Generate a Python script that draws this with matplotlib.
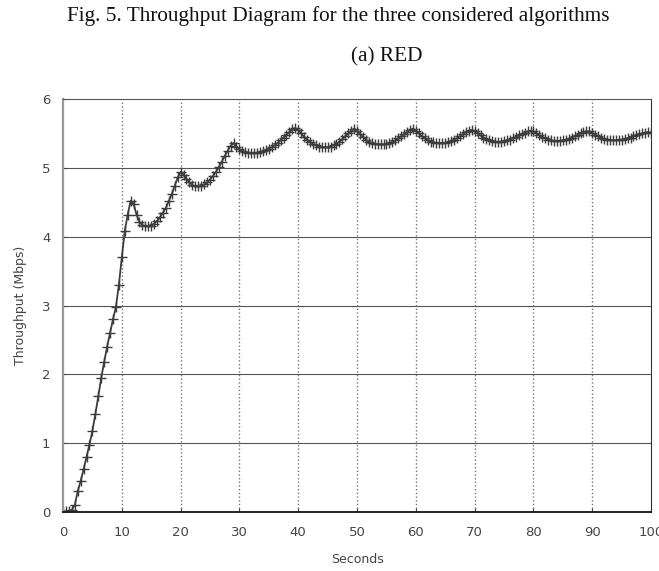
import numpy as np
import matplotlib
matplotlib.use('Agg')
import matplotlib.pyplot as plt

# RED throughput trace, sampled every 0.5 s
seconds = np.arange(0, 100.5, 0.5)
throughput = [
    0.00, 0.01, 0.02, 0.03, 0.10, 0.30, 0.45, 0.62, 0.80, 0.98,   # 0 - 4.5
    1.18, 1.42, 1.68, 1.95, 2.18, 2.40, 2.60, 2.80, 2.98, 3.30,   # 5 - 9.5
    3.70, 4.08, 4.32, 4.52, 4.48, 4.32, 4.22, 4.17, 4.15, 4.15,   # 10 - 14.5
    4.16, 4.19, 4.23, 4.28, 4.35, 4.42, 4.52, 4.62, 4.74, 4.86,   # 15 - 19.5
    4.94, 4.90, 4.84, 4.79, 4.75, 4.73, 4.73, 4.74, 4.76, 4.79,   # 20 - 24.5
    4.83, 4.88, 4.94, 5.01, 5.09, 5.17, 5.25, 5.32, 5.36, 5.31,   # 25 - 29.5
    5.27, 5.25, 5.23, 5.22, 5.22, 5.22, 5.22, 5.23, 5.24, 5.26,   # 30 - 34.5
    5.28, 5.30, 5.33, 5.36, 5.40, 5.44, 5.48, 5.52, 5.56, 5.58,   # 35 - 39.5
    5.55, 5.50, 5.45, 5.41, 5.38, 5.35, 5.33, 5.31, 5.30, 5.30,   # 40 - 44.5
    5.30, 5.31, 5.33, 5.35, 5.38, 5.42, 5.46, 5.50, 5.54, 5.57,   # 45 - 49.5
    5.54, 5.49, 5.45, 5.41, 5.38, 5.36, 5.35, 5.34, 5.34, 5.34,   # 50 - 54.5
    5.35, 5.36, 5.38, 5.40, 5.43, 5.46, 5.49, 5.52, 5.55, 5.57,   # 55 - 59.5
    5.54, 5.50, 5.46, 5.43, 5.40, 5.38, 5.37, 5.36, 5.36, 5.36,   # 60 - 64.5
    5.36, 5.37, 5.39, 5.41, 5.43, 5.46, 5.49, 5.52, 5.54, 5.55,   # 65 - 69.5
    5.53, 5.50, 5.47, 5.44, 5.42, 5.40, 5.39, 5.38, 5.38, 5.38,   # 70 - 74.5
    5.39, 5.40, 5.41, 5.43, 5.45, 5.47, 5.49, 5.51, 5.53, 5.54,   # 75 - 79.5
    5.53, 5.50, 5.47, 5.45, 5.43, 5.41, 5.40, 5.39, 5.39, 5.39,   # 80 - 84.5
    5.40, 5.41, 5.42, 5.44, 5.46, 5.48, 5.50, 5.52, 5.53, 5.53,   # 85 - 89.5
    5.51, 5.48, 5.46, 5.44, 5.42, 5.41, 5.41, 5.40, 5.40, 5.41,   # 90 - 94.5
    5.41, 5.42, 5.43, 5.44, 5.46, 5.47, 5.49, 5.50, 5.51, 5.52,   # 95 - 99.5
    5.51,                                                         # 100
]

x_ticks = list(range(0, 101, 10))
y_ticks = list(range(0, 7))

fig = plt.figure(figsize=(6.59, 5.71), dpi=100)

# caption lines above the plot
fig.text(0.514, 0.972, "Fig. 5. Throughput Diagram for the three considered algorithms",
         ha='center', va='center', family='Liberation Serif', fontsize=15.3, color='#111111')
fig.text(0.587, 0.901, "(a) RED", ha='center', va='center',
         family='Liberation Serif', fontsize=15.3, color='#111111')

ax = fig.add_axes([0.0956, 0.1033, 0.8924, 0.7233])

ax.plot(seconds, throughput, color='#3c3c3c', linewidth=1.3,
        marker='+', markersize=7, markeredgewidth=1.0)

ax.set_xlim(0, 100)
ax.set_ylim(0, 6)
ax.set_xticks(x_ticks)
ax.set_yticks(y_ticks)

# horizontal grid solid, vertical grid dotted
for yv in y_ticks[1:-1]:
    ax.axhline(yv, color='#555555', linewidth=0.8, zorder=0)
for xv in x_ticks[1:-1]:
    ax.axvline(xv, color='#777777', linewidth=1.0, linestyle=':', zorder=0)

ax.tick_params(direction='in', length=3, labelsize=9.5, colors='#444444')
ax.tick_params(axis='x', pad=10)
ax.tick_params(axis='y', pad=9)
ax.set_xlabel("Seconds", fontsize=9, color='#444444', labelpad=10)
ax.set_ylabel("Throughput (Mbps)", fontsize=9, color='#444444', labelpad=11)

ax.spines['left'].set_color('#999999')
ax.spines['left'].set_linewidth(1.6)
ax.spines['bottom'].set_color('#222222')
ax.spines['bottom'].set_linewidth(1.4)
ax.spines['top'].set_color('#555555')
ax.spines['right'].set_color('#333333')

fig.savefig('out.png', dpi=100)
